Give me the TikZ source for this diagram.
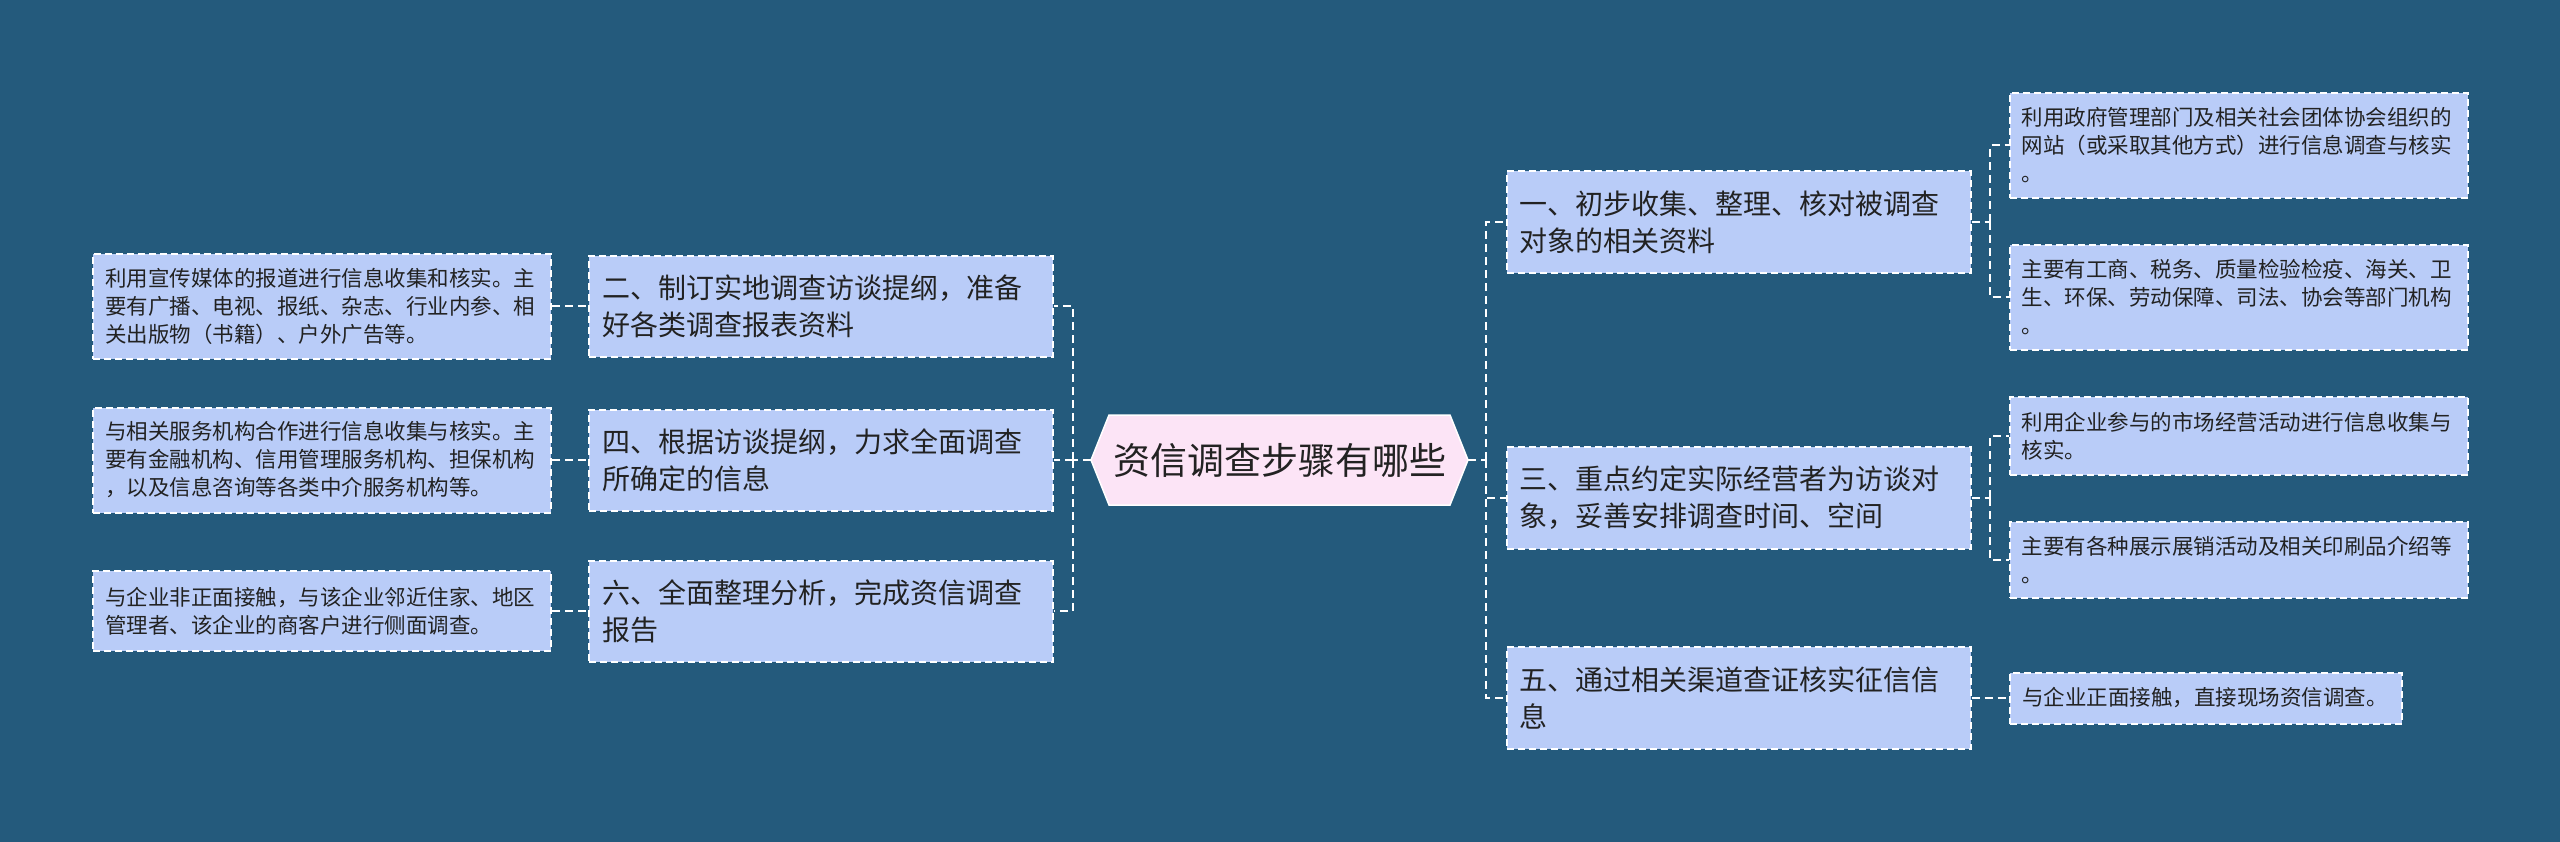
\documentclass[tikz,border=0pt]{standalone}
\usepackage{fontspec}
\setmainfont{Noto Sans CJK SC}
\definecolor{bg}{HTML}{245A7C}
\definecolor{boxc}{HTML}{B9CCF8}
\definecolor{pinkc}{HTML}{FCE4F6}
\definecolor{txt}{HTML}{222222}
\begin{document}
\begin{tikzpicture}[x=1pt,y=-1pt,
  dsh/.style={draw=white, line width=2pt, dash pattern=on 7pt off 4pt},
  lvl/.style={dsh, fill=boxc, text=txt, inner xsep=13pt, inner ysep=0pt, text width=438pt, minimum height=101pt, align=left, font=\fontsize{28}{37}\selectfont},
  leaf/.style={dsh, fill=boxc, text=txt, inner xsep=12pt, inner ysep=0pt, text width=434pt, align=left, font=\fontsize{21.5}{28}\selectfont},
  conn/.style={draw=white, line width=2pt, dash pattern=on 8pt off 5pt}
]
\useasboundingbox (0,0) rectangle (2560,842);
\fill[bg] (0,0) rectangle (2560,842);

% center
\filldraw[fill=pinkc, draw=white, line width=1.5pt] (1109,415) -- (1450,415) -- (1468,460) -- (1450,505) -- (1109,505) -- (1091,460) -- cycle;
\node[font=\fontsize{37}{44}\selectfont, text=txt, minimum width=377pt, minimum height=90pt, inner sep=0pt] (c) at (1279.5,460) {资信调查步骤有哪些};

% left level-1
\node[lvl] (b2) at (821,306.5) {二、制订实地调查访谈提纲，准备\\好各类调查报表资料};
\node[lvl] (b4) at (821,460) {四、根据访谈提纲，力求全面调查\\所确定的信息};
\node[lvl] (b6) at (821,611) {六、全面整理分析，完成资信调查\\报告};

% left leaves
\node[leaf, minimum height=104pt] (l1) at (322,306.5) {利用宣传媒体的报道进行信息收集和核实。主\\要有广播、电视、报纸、杂志、行业内参、相\\关出版物（书籍）、户外广告等。};
\node[leaf, minimum height=105pt] (l2) at (322,460) {与相关服务机构合作进行信息收集与核实。主\\要有金融机构、信用管理服务机构、担保机构\\，以及信息咨询等各类中介服务机构等。};
\node[leaf, minimum height=80pt] (l3) at (322,611) {与企业非正面接触，与该企业邻近住家、地区\\管理者、该企业的商客户进行侧面调查。};

% right level-1
\node[lvl, minimum height=102pt] (r1) at (1738.5,222) {一、初步收集、整理、核对被调查\\对象的相关资料};
\node[lvl, minimum height=102pt] (r3) at (1738.5,498) {三、重点约定实际经营者为访谈对\\象，妥善安排调查时间、空间};
\node[lvl, minimum height=102pt] (r5) at (1738.5,698) {五、通过相关渠道查证核实征信信\\息};

% right leaves
\node[leaf, minimum height=105pt] (r11) at (2238.5,145.5) {利用政府管理部门及相关社会团体协会组织的\\网站（或采取其他方式）进行信息调查与核实\\。};
\node[leaf, minimum height=105pt] (r12) at (2238.5,297.5) {主要有工商、税务、质量检验检疫、海关、卫\\生、环保、劳动保障、司法、协会等部门机构\\。};
\node[leaf, minimum height=78pt] (r31) at (2238.5,436) {利用企业参与的市场经营活动进行信息收集与\\核实。};
\node[leaf, minimum height=76pt] (r32) at (2238.5,560) {主要有各种展示展销活动及相关印刷品介绍等\\。};
\node[leaf, text width=368pt, minimum height=51pt] (r51) at (2206,698) {与企业正面接触，直接现场资信调查。};

% junctions
\coordinate (jl) at (1073,460);
\coordinate (jr) at (1486,460);
\coordinate (j1) at (1990,222);
\coordinate (j3) at (1990,498);

% connectors
\draw[conn] (c.west) -- (jl);
\draw[conn] (jl) |- (b2.east);
\draw[conn] (jl) -- (b4.east);
\draw[conn] (jl) |- (b6.east);
\draw[conn] (l1.east) -- (b2.west);
\draw[conn] (l2.east) -- (b4.west);
\draw[conn] (l3.east) -- (b6.west);

\draw[conn] (c.east) -- (jr);
\draw[conn] (jr) |- (r1.west);
\draw[conn] (jr) |- (r3.west);
\draw[conn] (jr) |- (r5.west);

\draw[conn] (r1.east) -- (j1);
\draw[conn] (j1) |- (r11.west);
\draw[conn] (j1) |- (r12.west);
\draw[conn] (r3.east) -- (j3);
\draw[conn] (j3) |- (r31.west);
\draw[conn] (j3) |- (r32.west);
\draw[conn] (r5.east) -- (r51.west);
\end{tikzpicture}
\end{document}
